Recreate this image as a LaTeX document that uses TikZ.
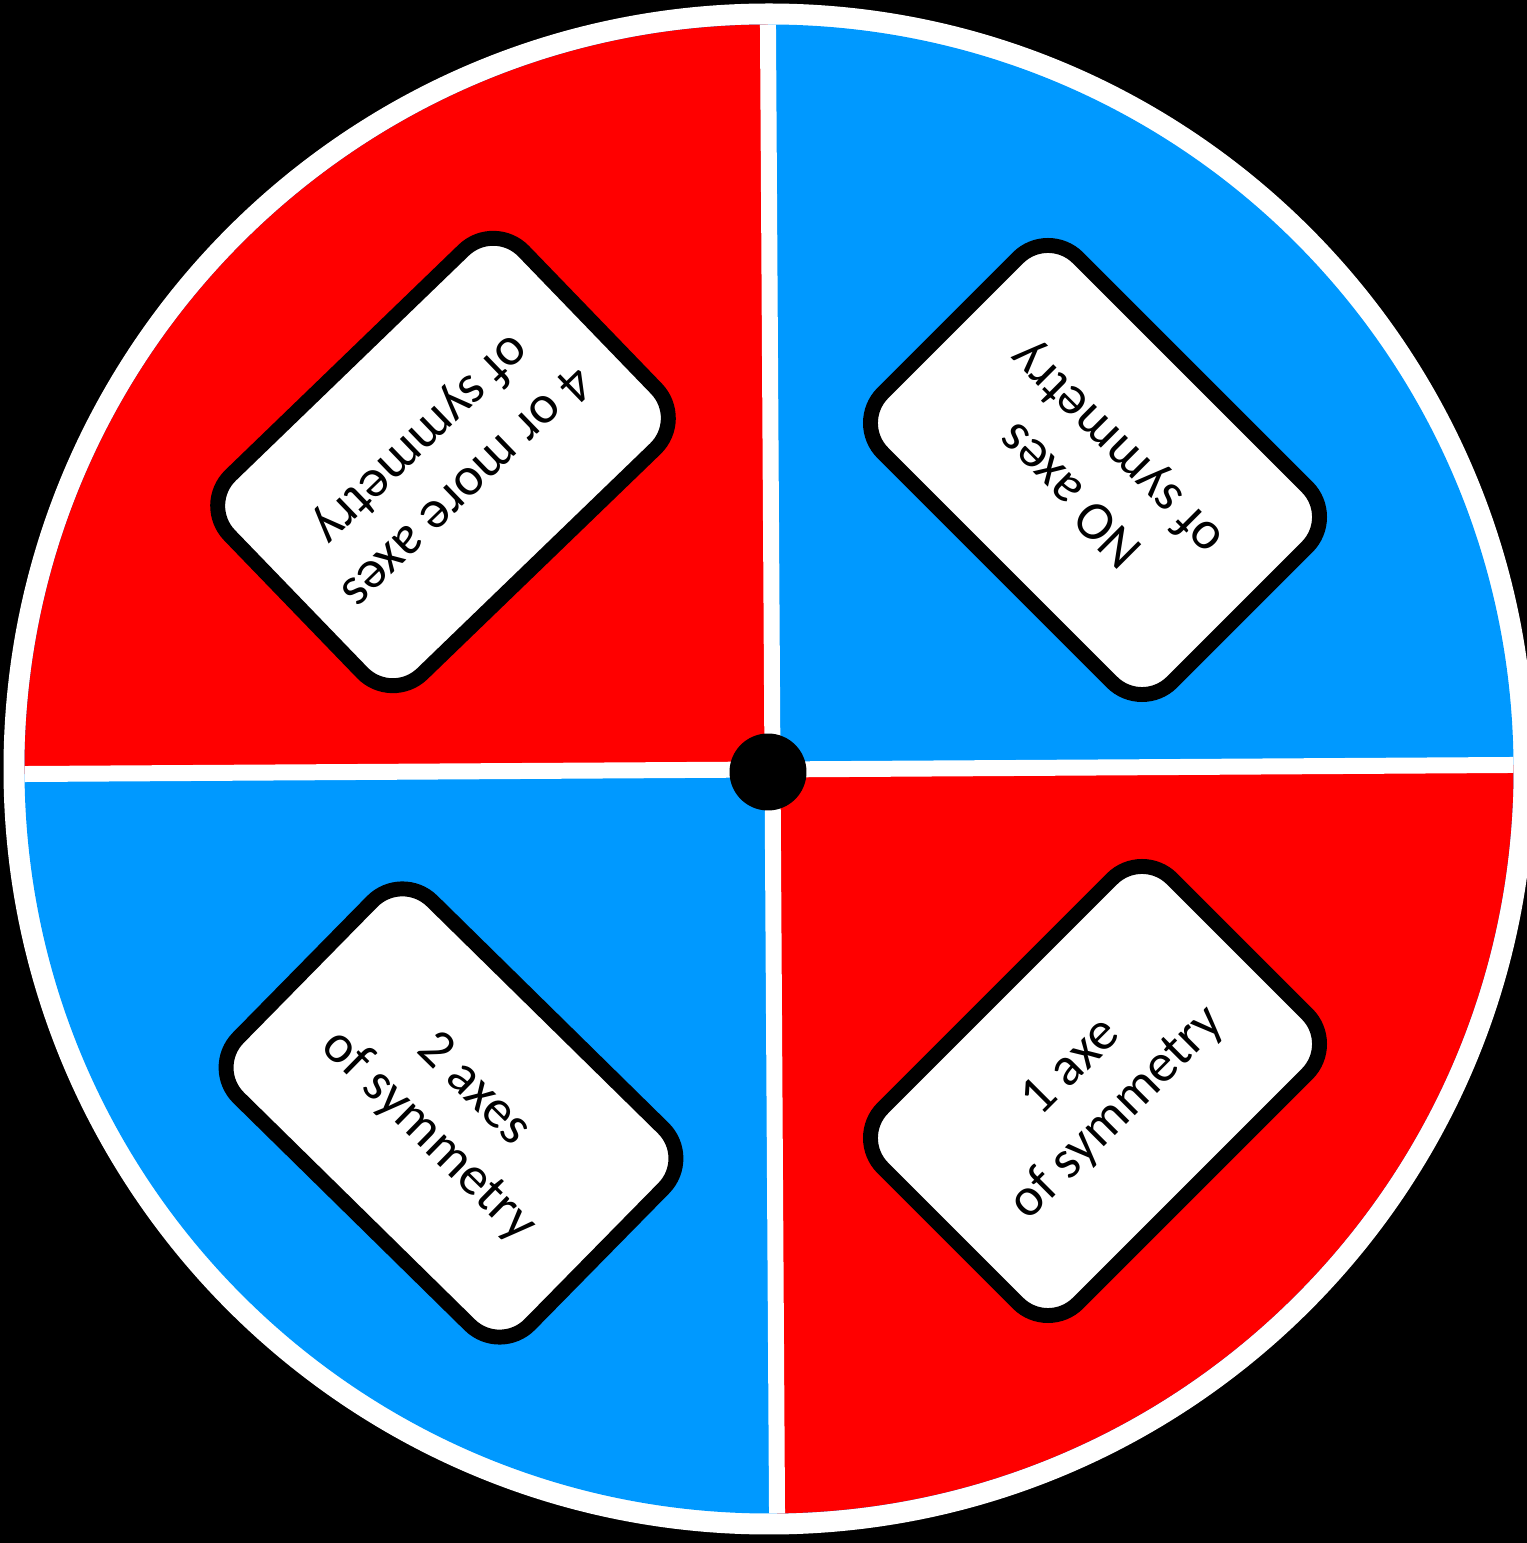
\documentclass[tikz,border=0pt]{standalone}
\usepackage{fontspec}
\setmainfont{Carlito}
\usetikzlibrary{positioning}
\definecolor{wheelred}{RGB}{255,0,0}
\definecolor{wheelblue}{RGB}{0,153,255}

\begin{document}
\begin{tikzpicture}[
  x=0.02cm, y=0.02cm,
  card/.style    = {draw=black, fill=white, line width=8.5pt,
                    rounded corners=0.85cm, inner sep=0pt,
                    minimum width=8.18cm, minimum height=5.52cm,
                    align=center, font=\fontsize{31}{37}\selectfont},
  divider/.style = {white, line width=9.1pt},
  hubdot/.style  = {circle, fill=black, inner sep=0pt, minimum size=1.54cm},
]
\fill[black] (0,0) rectangle (1527,1543);
\useasboundingbox (0,0) rectangle (1527,1543);
\coordinate (mid) at (769,774);
\fill[white] (mid) circle (765.5);
\begin{scope}
  \clip (mid) circle (744.5);
  \fill[wheelblue] (mid) circle (746);
  \coordinate (cross)  at (772.5,773.5);
  \coordinate (top)    at (767.9,1530);
  \coordinate (bottom) at (777.1,18);
  \coordinate (left)   at (12,768.9);
  \coordinate (right)  at (1526,778.1);
  \fill[wheelred] (cross) -- (top) -- (0,1543) -- (left) -- cycle;
  \fill[wheelred] (cross) -- (bottom) -- (1540,0) -- (right) -- cycle;
  \draw[divider] (top) -- (bottom);
  \draw[divider] (left) -- (right);
\end{scope}
\node[hubdot] (hub) at (768,771) {};
\node[card, rotate=224]   (fourplus) at (443,1081) {4 or more axes\\of symmetry};
\node[card, rotate=135]   (noaxes)   at (1095,1073) {NO axes\\of symmetry};
\node[card, rotate=-44.5] (twoaxes)  at (451,430)  {2 axes\\of symmetry};
\node[card, rotate=45]    (oneaxe)   at (1095,452) {1 axe\\of symmetry};
\end{tikzpicture}
\end{document}
